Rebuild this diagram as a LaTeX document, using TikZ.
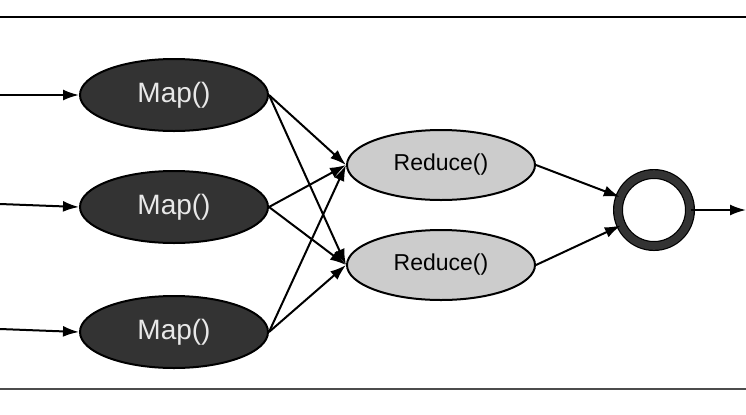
\documentclass[tikz,border=0pt]{standalone}
\usepackage{fontspec}
\setmainfont{Liberation Sans}
\usetikzlibrary{shapes.geometric,arrows.meta}
\definecolor{mapfill}{HTML}{333333}
\definecolor{redfill}{HTML}{CCCCCC}
\definecolor{maptext}{HTML}{E8E8E8}

\begin{document}
\begin{tikzpicture}[x=0.5pt, y=-0.5pt, >={Latex[length=8pt,width=5.5pt]},
    map/.style={ellipse, draw=black, line width=1pt, fill=mapfill, text=maptext,
        minimum width=94pt, minimum height=36pt, inner sep=0pt,
        font=\fontsize{14}{16}\selectfont},
    reduce/.style={ellipse, draw=black, line width=1pt, fill=redfill,
        minimum width=94pt, minimum height=35pt, inner sep=0pt,
        font=\fontsize{11.5}{13}\selectfont},
    arr/.style={->, line width=1pt}]
    \useasboundingbox (0,0) rectangle (746,414);
    \draw[line width=1.2pt] (0,17) -- (746,17);
    \draw[line width=1.2pt, black!70] (0,389) -- (746,389);

    \node[map] (1) at (174,95) {Map()};
    \node[map] (2) at (174,207) {Map()};
    \node[map] (3) at (174,332) {Map()};
    \node[reduce] (4) at (441,165) {Reduce()};
    \node[reduce] (5) at (441,265) {Reduce()};
    \node[circle, draw=black, line width=0.6pt, double=mapfill, double distance=3.8pt,
        fill=white, minimum size=36pt] (6) at (654,210) {};

    \coordinate (7) at (0,95);
    \coordinate (8) at (0,204);
    \coordinate (9) at (0,329);
    \coordinate (10) at (746,210);

    \draw[arr] (7) -- (1.west);
    \draw[arr] (8) -- (2.west);
    \draw[arr] (9) -- (3.west);
    \draw[arr] (1.east) -- (4.west);
    \draw[arr] (1.east) -- (5.west);
    \draw[arr] (2.east) -- (4.west);
    \draw[arr] (2.east) -- (5.west);
    \draw[arr] (3.east) -- (4.west);
    \draw[arr] (3.east) -- (5.west);
    \draw[arr] (4.east) -- (6);
    \draw[arr] (5.east) -- (6);
    \draw[arr] (6) -- (10);
\end{tikzpicture}
\end{document}
